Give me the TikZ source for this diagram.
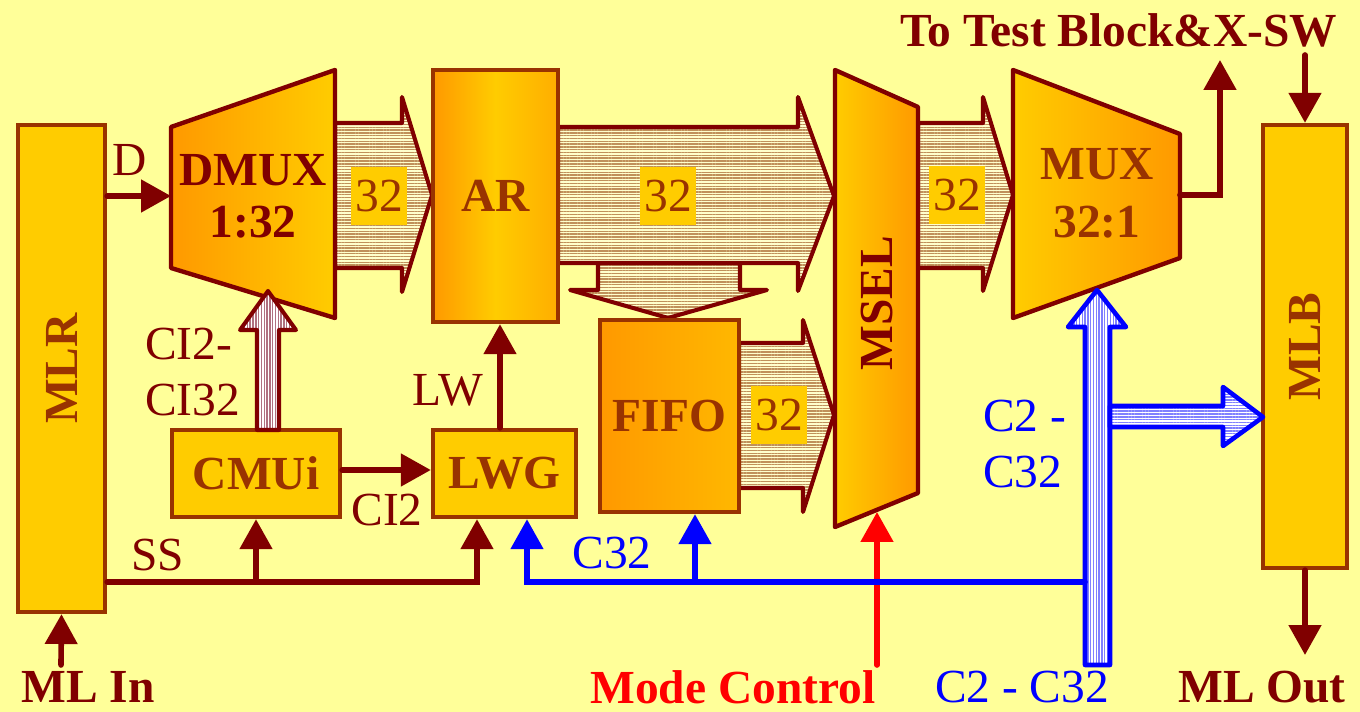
\documentclass[tikz,border=0pt]{standalone}
\usepackage{fontspec}
\setmainfont{Liberation Serif}
\usetikzlibrary{arrows.meta,patterns.meta}
\usepackage{xcolor}

\definecolor{bgyel}{HTML}{FFFF99}
\definecolor{boxfill}{HTML}{FFCC00}
\definecolor{boxline}{HTML}{993300}
\definecolor{darkred}{HTML}{800000}
\definecolor{orng}{HTML}{FF9900}
\definecolor{stripe}{HTML}{C0905A}
\definecolor{stripebg}{HTML}{FFFFCC}
\definecolor{pinkstripe}{HTML}{B07080}
\definecolor{bluestripe}{HTML}{8080FF}
\newcommand{\lblfont}{\fontsize{27}{32}\selectfont}

\begin{document}
\begin{tikzpicture}[x=0.02cm, y=-0.02cm, line cap=round,
    blk/.style={draw=boxline, line width=2.5pt, fill=boxfill, inner sep=0pt, text=boxline, font=\lblfont\bfseries},
    trap/.style={draw=darkred, line width=2.5pt, line join=round},
    bus/.style={draw=darkred, line width=2.3pt, line join=round, preaction={fill=stripebg},
        pattern={Lines[angle=0,distance=1.6pt,line width=0.8pt]}, pattern color=stripe},
    cibus/.style={draw=darkred, line width=2.3pt, line join=round, preaction={fill=white},
        pattern={Lines[angle=90,distance=1.6pt,line width=0.8pt]}, pattern color=pinkstripe},
    cvbus/.style={draw=blue, line width=2.6pt, line join=round, preaction={fill=white},
        pattern={Lines[angle=90,distance=1.6pt,line width=0.8pt]}, pattern color=bluestripe},
    chbus/.style={draw=blue, line width=2.6pt, line join=round, preaction={fill=white},
        pattern={Lines[angle=0,distance=1.6pt,line width=0.8pt]}, pattern color=bluestripe},
    sig/.style={draw=darkred, line width=3.2pt, -{Triangle[length=17pt,width=18pt]}},
    lbl/.style={font=\lblfont, text=darkred, inner sep=0pt},
    ttl/.style={font=\lblfont\bfseries, text=darkred, inner sep=0pt},
    num/.style={fill=boxfill, text=boxline, font=\lblfont, minimum width=1.12cm, minimum height=1.15cm, inner sep=0pt}
]
\fill[bgyel] (0,0) rectangle (1360,712);
\useasboundingbox (0,0) rectangle (1360,712);

% 32-bit buses
\path[bus] (598,263) -- (598,290) -- (570,290) -- (668,318) -- (767,290) -- (740,290) -- (740,263) -- cycle;
\path[bus] (335,123) -- (402,123) -- (402,97) -- (432,195) -- (402,292) -- (402,268) -- (335,268) -- cycle;
\path[bus] (558,127) -- (798,127) -- (798,97) -- (834,196) -- (798,291) -- (798,263) -- (558,263) -- cycle;
\path[bus] (739,343) -- (803,343) -- (803,320) -- (834,415) -- (803,512) -- (803,488) -- (739,488) -- cycle;
\path[bus] (918,123) -- (983,123) -- (983,97) -- (1013,195) -- (983,291) -- (983,268) -- (918,268) -- cycle;

% blocks
\node[blk, minimum width=1.74cm, minimum height=9.74cm] (mlr) at (61.5,368.5) {};
\node[ttl, text=boxline, rotate=90] (mlrtxt) at (mlr) {MLR};
\node[blk, minimum width=1.68cm, minimum height=8.86cm] (mlb) at (1305,346.5) {};
\node[ttl, text=boxline, rotate=90] (mlbtxt) at (mlb) {MLB};
\node[blk, minimum width=2.5cm, minimum height=5.04cm, left color=orng, right color=orng!60!boxfill, middle color=boxfill] (ar) at (495.5,196) {AR};
\node[blk, minimum width=2.78cm, minimum height=3.84cm, left color=orng, right color=orng!40!boxfill] (fifo) at (669.5,416) {FIFO};
\node[blk, minimum width=3.36cm, minimum height=1.74cm] (cmui) at (256,473.5) {CMUi};
\node[blk, minimum width=2.86cm, minimum height=1.74cm] (lwg) at (504.5,473.5) {LWG};

\draw[trap, left color=orng, right color=boxfill] (171,127) -- (335,70) -- (335,318) -- (171,268) -- cycle;
\node[ttl, align=center] (dmux) at (253,196) {DMUX\\[-2.5pt]1:32};
\draw[trap, left color=boxfill, right color=orng] (835,70) -- (918,107) -- (918,493) -- (835,527) -- cycle;
\node[ttl, rotate=90] (msel) at (877,303) {MSEL};
\draw[trap, left color=boxfill, right color=orng] (1013,70) -- (1180,134) -- (1180,258) -- (1013,318) -- cycle;
\node[ttl, text=boxline, align=center] (mux) at (1097,193) {MUX\\[1pt]32:1};

\node[num] (n1) at (379,196) {32};
\node[num] (n2) at (668,196) {32};
\node[num] (n3) at (957,195) {32};
\node[num] (n4) at (779,415) {32};

% control buses
\path[cibus] (257,430) -- (257,330) -- (240,330) -- (268,291) -- (296,330) -- (279,330) -- (279,430) -- cycle;
\path[cvbus] (1085,665) -- (1085,327) -- (1068,327) -- (1097,290) -- (1126,327) -- (1110,327) -- (1110,665) -- cycle;
\path[chbus] (1110,406) -- (1223,406) -- (1223,387) -- (1263,417) -- (1223,446) -- (1223,427) -- (1110,427) -- cycle;

% signals
\coordinate (dmuxin) at (171,196);
\coordinate (ssbus) at (477,582);
\coordinate (muxout) at (1180,195);
\coordinate (tstb) at (1220,60);
\coordinate (swin) at (1305,55);
\coordinate (mloutpt) at (1305,655);
\coordinate (mlinpt) at (61,665);
\coordinate (modein) at (877,665);
\coordinate (mselbot) at (877,512);
\coordinate (cbusl) at (1085,582);
\coordinate (lwgc) at (527,582);
\coordinate (fifoc) at (695,582);

\draw[sig] (mlr.east |- dmuxin) -- (dmuxin);
\draw[sig] (mlr.east |- ssbus) -- (ssbus) -- (lwg.south -| ssbus);
\draw[sig] (cmui.south |- ssbus) -- (cmui.south);
\draw[sig] (cmui.east |- 0,470) -- (lwg.west |- 0,470);
\draw[sig] (lwg.north -| 500,0) -- (ar.south -| 500,0);
\draw[sig] (muxout) -| (tstb);
\draw[sig] (swin) -- (mlb.north);
\draw[sig] (mlb.south) -- (mloutpt);
\draw[sig] (mlinpt) -- (mlr.south);
\draw[sig, draw=red] (modein) -- (mselbot);
\draw[sig, draw=blue] (cbusl) -- (lwgc) -- (lwg.south -| lwgc);
\draw[sig, draw=blue] (fifoc) -- (fifo.south -| fifoc);

% labels
\node[lbl] (dlbl) at (130,160) {D};
\node[lbl] (sslbl) at (158,555) {SS};
\node[lbl] (ci2lbl) at (387,510) {CI2};
\node[lbl] (lwlbl) at (448,390) {LW};
\node[lbl, align=left, anchor=west] (cilbl) at (145,372) {CI2-\\CI32};
\node[lbl, text=blue] (c32lbl) at (612,553) {C32};
\node[lbl, text=blue, align=left, anchor=west] (c2lbl) at (983,444) {C2 -\\C32};
\node[ttl] (tstlbl) at (1119,30) {To Test Block\&X-SW};
\node[ttl] (mlinlbl) at (88,687) {ML In};
\node[ttl] (mloutlbl) at (1262,687) {ML Out};
\node[ttl, text=red] (modelbl) at (733,687) {Mode Control};
\node[lbl, text=blue] (c2c32lbl) at (1022,687) {C2 - C32};
\end{tikzpicture}
\end{document}
